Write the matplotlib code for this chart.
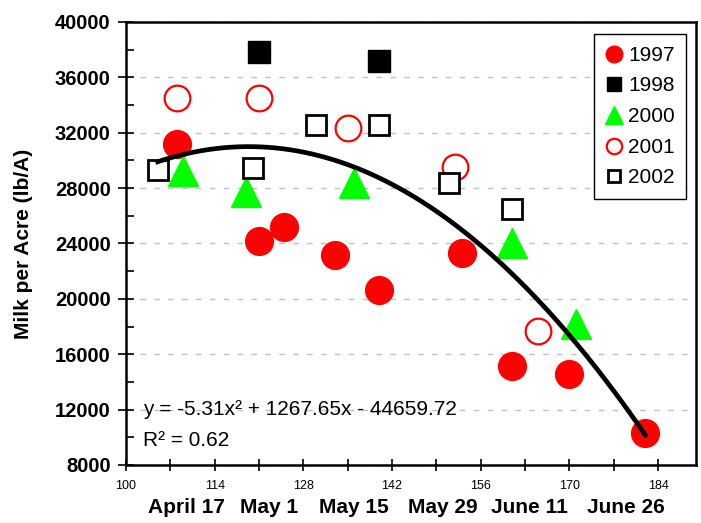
import numpy as np
import matplotlib
matplotlib.use("Agg")
import matplotlib.pyplot as plt
from matplotlib.ticker import MultipleLocator

plt.rcParams["font.family"] = ["Liberation Sans", "DejaVu Sans"]

# day of year vs milk per acre
x_1997 = [108, 121, 125, 133, 140, 153, 161, 170, 182]
y_1997 = [31200, 24150, 25200, 23150, 20650, 23300, 15150, 14550, 10300]

x_1998 = [121, 140]
y_1998 = [37800, 37150]

x_2000 = [109, 119, 136, 161, 171]
y_2000 = [29250, 27750, 28400, 24000, 18200]

x_2001 = [108, 121, 135, 152, 165]
y_2001 = [34500, 34500, 32350, 29500, 17650]

x_2002 = [105, 120, 130, 140, 151, 161]
y_2002 = [29300, 29450, 32550, 32550, 28350, 26500]

# quadratic trendline shown on the chart
trend_coef = [-5.31, 1267.65, -44659.72]
trend_range = (105, 182)

x_ticks = [100, 114, 128, 142, 156, 170, 184]
x_minor = [107, 121, 135, 149, 163, 177]

date_labels = ["April 17", "May 1", "May 15", "May 29", "June 11", "June 26"]
date_pos = [109.5, 122.6, 136.0, 150.0, 163.7, 178.9]

fig = plt.figure(figsize=(7.01, 5.23), dpi=100)
ax = fig.add_axes([0.1797, 0.1109, 0.8132, 0.8471])

ax.yaxis.grid(True, color="#c0c0c0", linestyle=(0, (4, 6)), linewidth=1)
ax.set_axisbelow(True)

ax.plot(x_1997, y_1997, "o", color="red", markersize=20, label="1997", zorder=3)
ax.plot(x_1998, y_1998, "s", color="black", markersize=16, label="1998", zorder=3)
ax.plot(x_2000, y_2000, "^", color="#00ff00", markersize=21, label="2000", zorder=3)
ax.plot(x_2001, y_2001, "o", mfc="white", mec="red", mew=1.6, markersize=18.5,
        label="2001", zorder=3)
ax.plot(x_2002, y_2002, "s", mfc="white", mec="black", mew=2, markersize=15,
        label="2002", zorder=3)

xt = np.linspace(trend_range[0], trend_range[1], 200)
ax.plot(xt, np.polyval(trend_coef, xt), color="black", lw=3.4, zorder=4)

ax.set_xlim(100, 190)
ax.set_ylim(8000, 40000)
ax.set_xticks(x_ticks)
ax.set_xticks(x_minor, minor=True)
ax.yaxis.set_major_locator(MultipleLocator(4000))
ax.yaxis.set_minor_locator(MultipleLocator(2000))

for s in ax.spines.values():
    s.set_linewidth(1.8)
ax.tick_params(axis="x", which="both", direction="inout", length=9, width=1.2,
               labelsize=9, pad=6)
ax.tick_params(axis="y", which="major", direction="inout", length=12, width=1.2,
               labelsize=14.5, pad=5)
ax.tick_params(axis="y", which="minor", direction="in", length=6, width=1.2)
for lab in ax.get_yticklabels():
    lab.set_fontweight("bold")

ax.set_ylabel("Milk per Acre (lb/A)", fontsize=15, fontweight="bold")
ax.yaxis.set_label_coords(-0.163, 0.5)

for lab, xp in zip(date_labels, date_pos):
    ax.text(xp, -0.097, lab, transform=ax.get_xaxis_transform(), ha="center",
            va="center", fontsize=15, fontweight="bold")

ax.text(0.03, 0.126, "y = -5.31x² + 1267.65x - 44659.72", transform=ax.transAxes,
        fontsize=15, va="center")
ax.text(0.03, 0.055, "R² = 0.62", transform=ax.transAxes, fontsize=15, va="center")

leg = ax.legend(loc="upper right", bbox_to_anchor=(0.983, 0.972), fontsize=15,
                markerscale=0.6, fancybox=False, framealpha=1, edgecolor="black",
                labelspacing=0.56, handlelength=0.8, handletextpad=0.3,
                borderpad=0.55, borderaxespad=0)
leg.get_frame().set_linewidth(1)

fig.savefig("out.png", dpi=100)
